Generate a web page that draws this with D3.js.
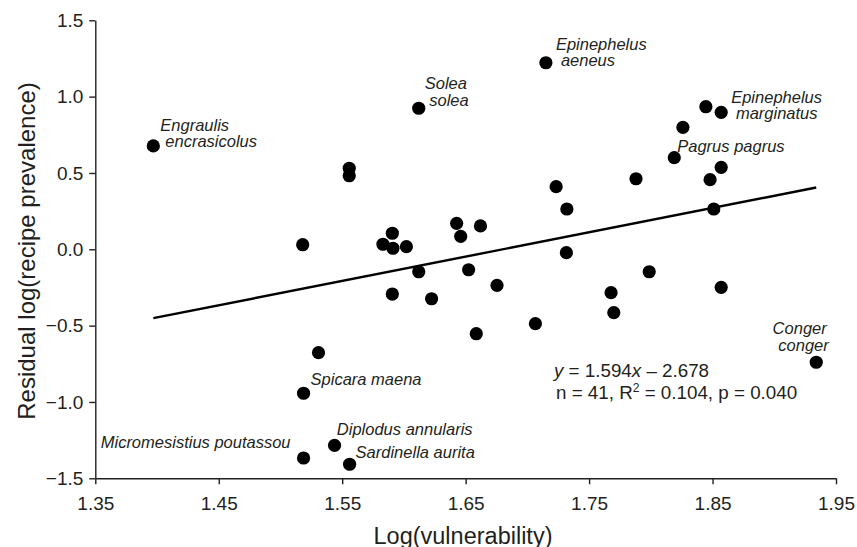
<!DOCTYPE html>
<html><head><meta charset="utf-8">
<script src="https://cdn.jsdelivr.net/npm/d3@7"></script>
<style>body{margin:0;background:#fff}</style>
</head><body>
<svg id="chart" width="857" height="547"></svg>
<script>
// ---------- data ----------
const vulnerability = [1.397,1.612,1.715,1.8446,1.857,1.826,1.819,1.857,1.848,1.788,1.851,1.732,1.7233,1.7316,1.7987,
  1.5557,1.5557,1.518,1.5906,1.583,1.5911,1.602,1.6427,1.646,1.662,1.612,1.6524,1.5906,1.6224,1.6754,1.6586,1.7065,
  1.5308,1.7678,1.770,1.857,1.934,1.5187,1.5438,1.5187,1.556];
const residual = [0.677,0.924,1.222,0.934,0.897,0.799,0.600,0.537,0.456,0.462,0.264,0.264,0.410,-0.022,-0.147,
  0.531,0.482,0.030,0.105,0.033,0.007,0.017,0.170,0.085,0.153,-0.147,-0.134,-0.293,-0.324,-0.236,-0.553,-0.487,
  -0.677,-0.284,-0.415,-0.249,-0.740,-0.943,-1.284,-1.367,-1.408];
const species = ["Engraulis encrasicolus","Solea solea","Epinephelus aeneus","","Epinephelus marginatus","","Pagrus pagrus","","","","","","","","",
  "","","","","","","","","","","","","","","","","",
  "","","","","Conger conger","Spicara maena","Diplodus annularis","Micromesistius poutassou","Sardinella aurita"];
const xTicks = [1.35,1.45,1.55,1.65,1.75,1.85,1.95];
const yTicks = [-1.5,-1.0,-0.5,0.0,0.5,1.0,1.5];
const slope = 1.594, intercept = -2.678;
const nObs = 41, rSquared = 0.104, pValue = 0.040;
const xTitle = "Log(vulnerability)";
const yTitle = "Residual log(recipe prevalence)";

// ---------- layout (label line breaks and offsets in px) ----------
const labelLayout = {
  "Engraulis encrasicolus": {lines:["Engraulis","encrasicolus"], off:[[7,-15],[12,1.5]], anchor:"start"},
  "Solea solea": {lines:["Solea","solea"], off:[[6,-19],[10.5,-2.5]], anchor:"start"},
  "Epinephelus aeneus": {lines:["Epinephelus","aeneus"], off:[[10,-13],[15,2.8]], anchor:"start"},
  "Epinephelus marginatus": {lines:["Epinephelus","marginatus"], off:[[10,-9.6],[14.7,6.5]], anchor:"start"},
  "Pagrus pagrus": {lines:["Pagrus pagrus"], off:[[3,-6]], anchor:"start"},
  "Conger conger": {lines:["Conger","conger"], off:[[10.5,-28],[12.5,-11.6]], anchor:"end"},
  "Spicara maena": {lines:["Spicara maena"], off:[[7,-8.3]], anchor:"start"},
  "Diplodus annularis": {lines:["Diplodus annularis"], off:[[2.3,-10]], anchor:"start"},
  "Sardinella aurita": {lines:["Sardinella aurita"], off:[[6,-6]], anchor:"start"},
  "Micromesistius poutassou": {lines:["Micromesistius poutassou"], off:[[-13,-9.7]], anchor:"end"}
};

const ink = "#231f20";
const font = "'Liberation Sans', Arial, Helvetica, sans-serif";
const svg = d3.select("#chart").style("font-family", font);

const x = d3.scaleLinear().domain([1.35,1.95]).range([95.3,836]);
const y = d3.scaleLinear().domain([-1.5,1.5]).range([478.3,20.3]);

// axes
const yAxis = svg.append("g").attr("transform", `translate(${x(1.35)},0)`)
  .call(d3.axisLeft(y).tickValues(yTicks).tickFormat(d3.format(".1f")).tickSize(6).tickSizeOuter(0).tickPadding(6));
const xAxis = svg.append("g").attr("transform", `translate(0,${y(-1.5)})`)
  .call(d3.axisBottom(x).tickValues(xTicks).tickFormat(d3.format(".2f")).tickSize(6).tickSizeOuter(0).tickPadding(12));
[yAxis, xAxis].forEach(g => {
  g.select(".domain").attr("stroke", ink).attr("stroke-width", 1.4);
  g.selectAll(".tick line").attr("stroke", ink).attr("stroke-width", 1.4);
  g.selectAll(".tick text").attr("fill", ink).style("font-size", "19px").style("font-family", font);
});

// titles
svg.append("text").attr("x", 463).attr("y", 543.5).attr("text-anchor","middle")
  .attr("fill", ink).style("font-size","23.5px").text(xTitle);
svg.append("text").attr("transform","translate(35,251) rotate(-90)").attr("text-anchor","middle")
  .attr("fill", ink).style("font-size","24px").text(yTitle);

// regression line
const xExt = d3.extent(vulnerability);
svg.append("path")
  .attr("d", d3.line().x(d => x(d)).y(d => y(slope*d + intercept))(xExt))
  .attr("stroke", "#000").attr("stroke-width", 2.4).attr("fill","none");

// points
svg.append("g").selectAll("circle").data(vulnerability).join("circle")
  .attr("cx", d => x(d)).attr("cy", (d,i) => y(residual[i])).attr("r", 6.6).attr("fill", "#000");

// labels
const lab = svg.append("g").attr("fill", ink).style("font-size","16.5px").style("font-style","italic");
species.forEach((s,i) => {
  if (!s) return;
  const L = labelLayout[s];
  const px = x(vulnerability[i]), py = y(residual[i]);
  L.lines.forEach((t,k) => {
    lab.append("text").attr("x", px + L.off[k][0]).attr("y", py + L.off[k][1])
      .attr("text-anchor", L.anchor).text(t);
  });
});

// equation text
const eq = svg.append("g").attr("fill", ink).style("font-size","18.8px");
const t1 = eq.append("text").attr("x", 554).attr("y", 377.3);
t1.append("tspan").style("font-style","italic").text("y");
t1.append("tspan").text(` = ${slope.toFixed(3)}`);
t1.append("tspan").style("font-style","italic").text("x");
t1.append("tspan").text(` \u2013 ${Math.abs(intercept).toFixed(3)}`);
const t2 = eq.append("text").attr("x", 556).attr("y", 399);
t2.append("tspan").text(`n = ${nObs}, R`);
t2.append("tspan").attr("dy", -7).style("font-size","12px").text("2");
t2.append("tspan").attr("dy", 7).text(` = ${rSquared.toFixed(3)}, p = ${pValue.toFixed(3)}`);
</script>
</body></html>
